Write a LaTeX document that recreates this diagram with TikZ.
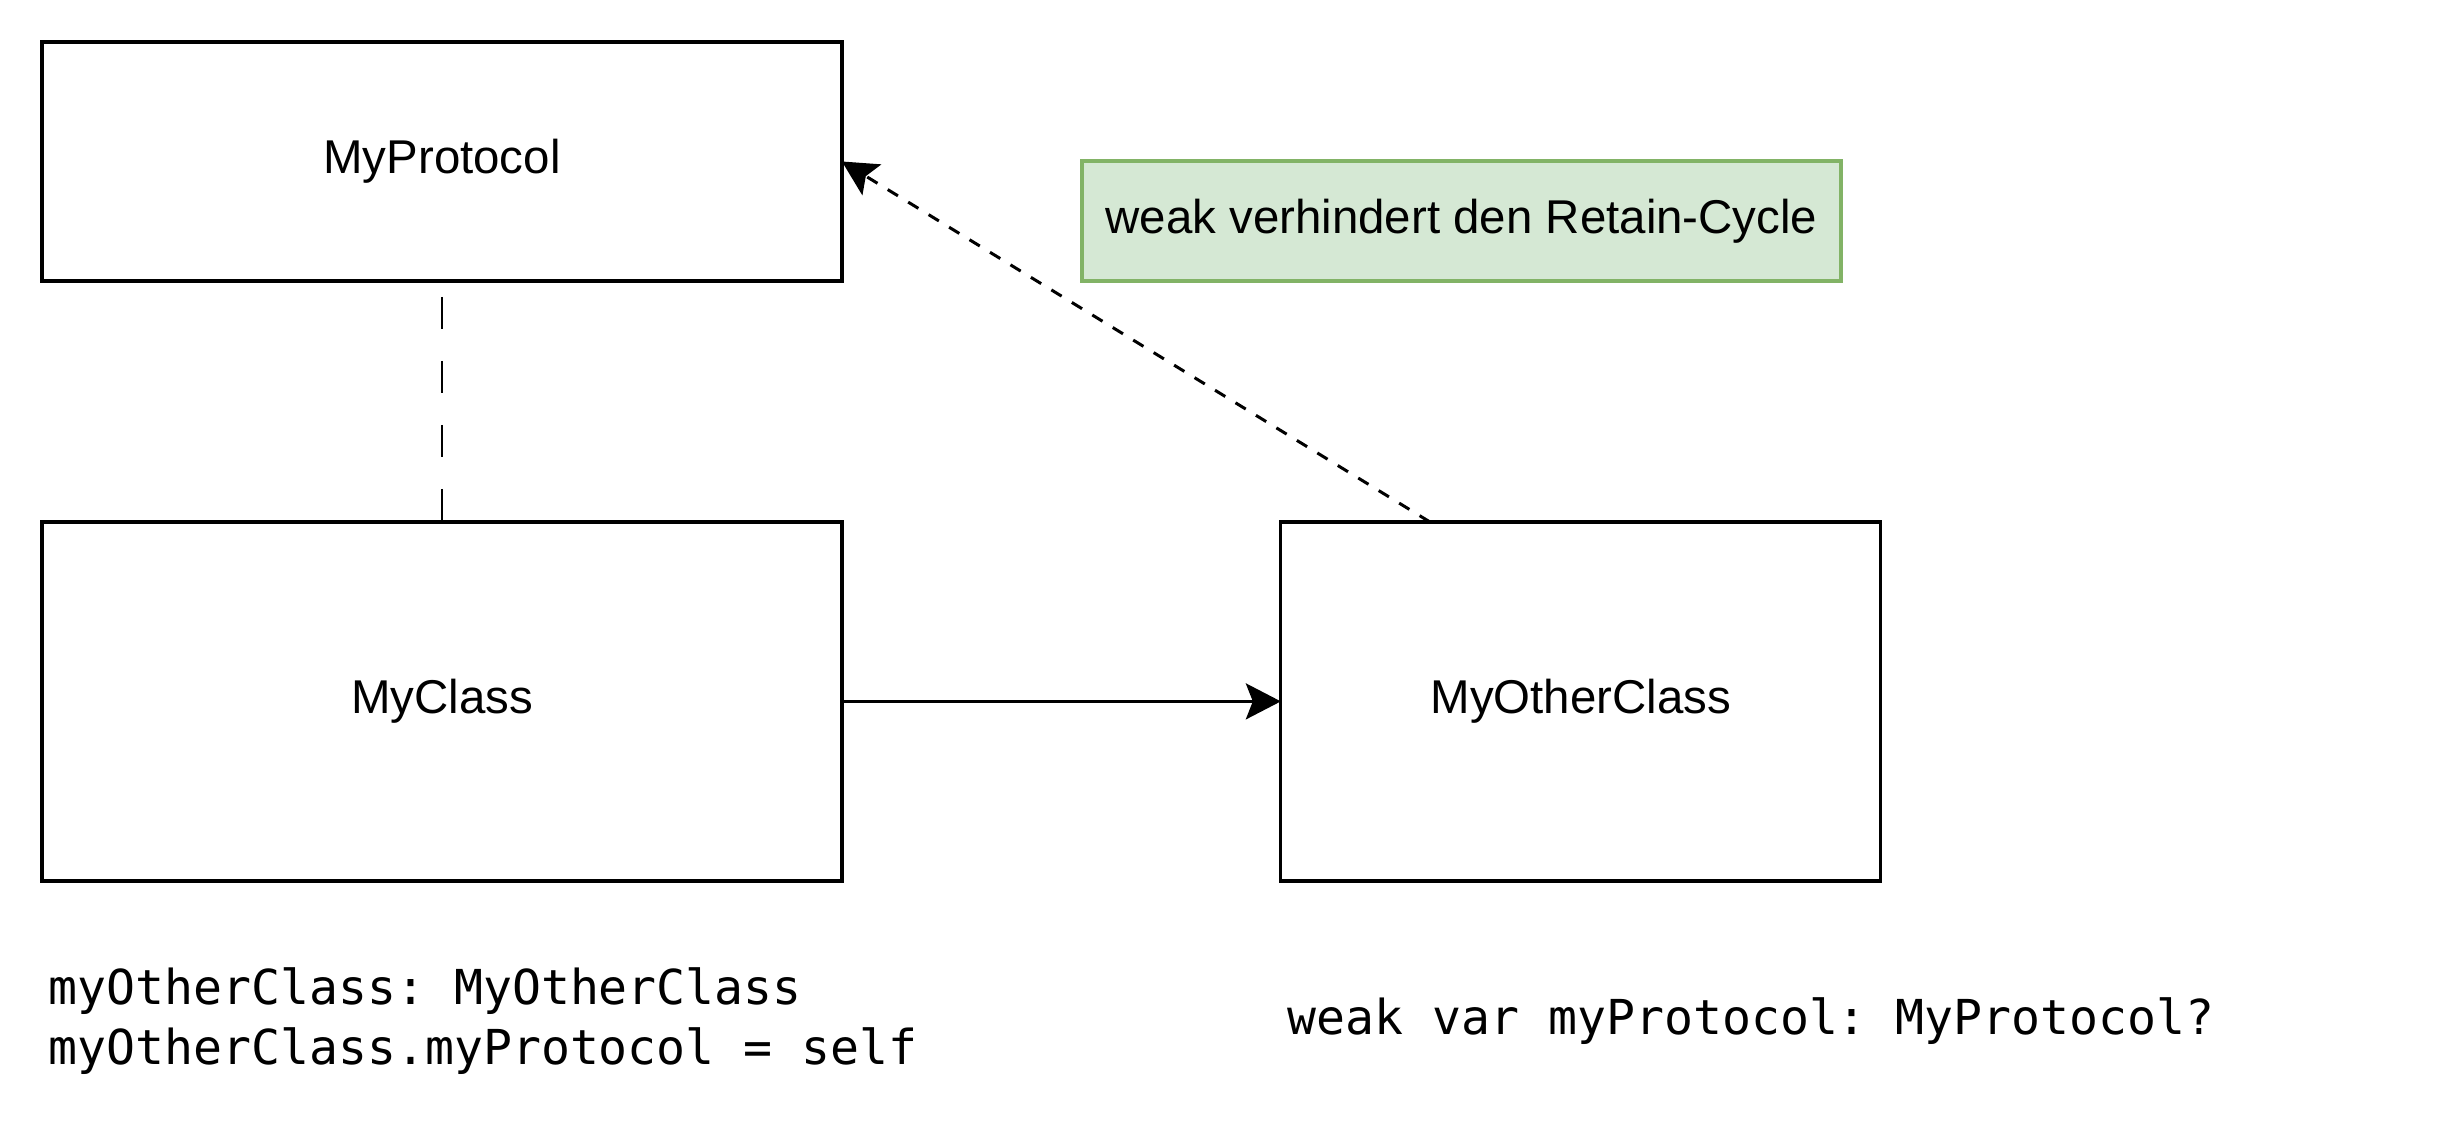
\documentclass[tikz,border=0pt]{standalone}
\usepackage{fontspec}
\setmainfont{Liberation Sans}
\setmonofont{DejaVu Sans Mono}
\usetikzlibrary{arrows.meta, positioning, calc}
\definecolor{NoteFill}{HTML}{D5E8D4}
\definecolor{NoteDraw}{HTML}{82B366}

\begin{document}
\begin{tikzpicture}[x=0.02cm, y=-0.02cm, node distance=4.82cm and 8.78cm, every node/.style={font=\fontsize{27}{34}\selectfont}, box/.style={draw, line width=0.066cm, minimum width=16cm, minimum height=7.18cm, inner sep=0pt, outer sep=0pt}, note/.style={fill=NoteFill, draw=NoteDraw, line width=0.066cm, minimum width=15.18cm, minimum height=2.4cm, inner sep=0pt}, code/.style={font=\ttfamily\fontsize{27.4}{34.1}\selectfont, align=left, anchor=west, inner sep=0pt}, arrow/.style={line width=0.06cm, -{Stealth[length=0.7cm, width=0.72cm, inset=0.14cm]}}]
\useasboundingbox (0,0) rectangle (2444,1124);
\node (proto) [box, minimum height=4.78cm] at (442,161.5) {MyProtocol};
\node (myclass) [box, below=of proto] {MyClass};
\node (other) [box, right=of myclass, minimum width=12cm] {MyOtherClass};
\node (hint) [note] at (1461.5,221) {weak verhindert den Retain-Cycle};
\node (ownercode) [code] at (48,1021) {myOtherClass: MyOtherClass\\myOtherClass.myProtocol = self};
\node (weakcode) [code] at (1287,1021) {weak var myProtocol: MyProtocol?};
\coordinate (weakstart) at ($(other.north west)+(149,0)$);

\draw [line width=0.05cm, dash pattern=on 0.64cm off 0.64cm, dash phase=0.96cm] (proto) -- (myclass);
\draw [arrow] (myclass) -- (other);
\draw [arrow, dash pattern=on 0.24cm off 0.24cm] (weakstart) -- (proto.east);
\end{tikzpicture}
\end{document}
